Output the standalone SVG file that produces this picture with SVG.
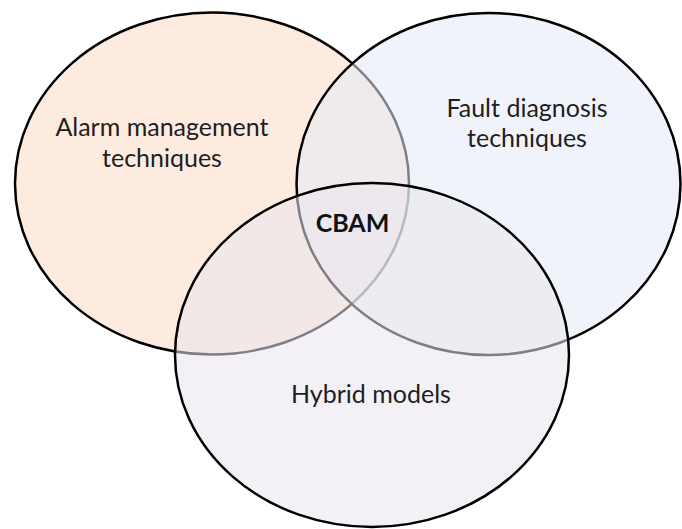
<svg xmlns="http://www.w3.org/2000/svg" width="682" height="529" viewBox="0 0 682 529">
  <style>
    .set { stroke: #000; stroke-width: 2.5; }
    .lbl { font-family: Lato, "Open Sans", sans-serif; font-size: 25px; fill: #1e1e1e; text-anchor: middle; }
    .core { font-family: Lato, "Open Sans", sans-serif; font-size: 25px; font-weight: bold; fill: #111; text-anchor: middle; }
  </style>
  <rect width="682" height="529" fill="#fff"/>
  <g id="alarm">
    <ellipse class="set" cx="212" cy="183.5" rx="197" ry="171" fill="#fdebdf"/>
    <text class="lbl" x="162" y="136">Alarm management</text>
    <text class="lbl" x="162" y="167">techniques</text>
  </g>
  <g id="fault">
    <ellipse class="set" cx="488.5" cy="184" rx="192" ry="171" fill="#e4e9f4" fill-opacity="0.55"/>
    <text class="lbl" x="527" y="117">Fault diagnosis</text>
    <text class="lbl" x="527" y="147">techniques</text>
  </g>
  <g id="hybrid">
    <ellipse class="set" cx="372" cy="355" rx="197" ry="172" fill="#e9e6ef" fill-opacity="0.55"/>
    <text class="lbl" x="371" y="403">Hybrid models</text>
  </g>
  <g id="cbam">
    <text class="core" x="352.5" y="232">CBAM</text>
  </g>
  <g id="connectors"/>
</svg>
